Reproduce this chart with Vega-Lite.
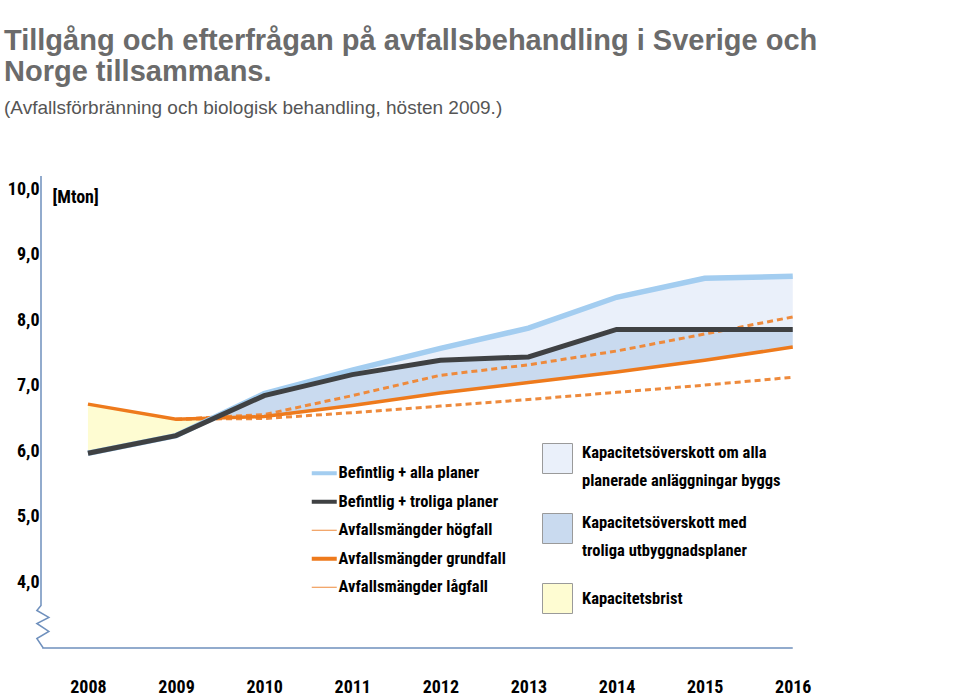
{
  "$schema": "https://vega.github.io/schema/vega-lite/v6.json",
  "width": 787,
  "height": 472,
  "autosize": {"type": "none"},
  "padding": {"left": 41, "top": 176, "right": 132, "bottom": 50},
  "background": "white",
  "config": {
    "view": {"stroke": null},
    "font": "Roboto Condensed, Liberation Sans, sans-serif"
  },
  "title": {
    "text": ["Tillgång och efterfrågan på avfallsbehandling i Sverige och", "Norge tillsammans."],
    "subtitle": "(Avfallsförbränning och biologisk behandling, hösten 2009.)",
    "anchor": "start",
    "frame": "group",
    "orient": "top",
    "dx": -37,
    "offset": 55,
    "font": "Liberation Sans, Arial, sans-serif",
    "fontSize": 29,
    "fontWeight": "bold",
    "color": "#6b6b6b",
    "lineHeight": 31,
    "subtitleFont": "Liberation Sans, Arial, sans-serif",
    "subtitleFontSize": 19,
    "subtitleColor": "#555555",
    "subtitlePadding": 12
  },
  "datasets": {
    "wide": [
      {"year": 2008, "alla": 5.97, "troliga": 5.97, "grund": 6.72},
      {"year": 2009, "alla": 6.24, "troliga": 6.24, "grund": 6.49},
      {"year": 2009.44, "alla": 6.51, "troliga": 6.51, "grund": 6.51},
      {"year": 2010, "alla": 6.88, "troliga": 6.85, "grund": 6.53},
      {"year": 2011, "alla": 7.24, "troliga": 7.17, "grund": 6.70},
      {"year": 2012, "alla": 7.57, "troliga": 7.39, "grund": 6.89},
      {"year": 2013, "alla": 7.88, "troliga": 7.44, "grund": 7.05},
      {"year": 2014, "alla": 8.35, "troliga": 7.86, "grund": 7.21},
      {"year": 2015, "alla": 8.64, "troliga": 7.86, "grund": 7.39},
      {"year": 2016, "alla": 8.67, "troliga": 7.86, "grund": 7.59}
    ],
    "lines": [
      {"series": "Avfallsmängder lågfall", "year": 2009, "value": 6.49},
      {"series": "Avfallsmängder lågfall", "year": 2010, "value": 6.50},
      {"series": "Avfallsmängder lågfall", "year": 2011, "value": 6.59},
      {"series": "Avfallsmängder lågfall", "year": 2012, "value": 6.69},
      {"series": "Avfallsmängder lågfall", "year": 2013, "value": 6.79},
      {"series": "Avfallsmängder lågfall", "year": 2014, "value": 6.90},
      {"series": "Avfallsmängder lågfall", "year": 2015, "value": 7.01},
      {"series": "Avfallsmängder lågfall", "year": 2016, "value": 7.13},
      {"series": "Avfallsmängder högfall", "year": 2009, "value": 6.49},
      {"series": "Avfallsmängder högfall", "year": 2010, "value": 6.56},
      {"series": "Avfallsmängder högfall", "year": 2011, "value": 6.85},
      {"series": "Avfallsmängder högfall", "year": 2012, "value": 7.16},
      {"series": "Avfallsmängder högfall", "year": 2013, "value": 7.32},
      {"series": "Avfallsmängder högfall", "year": 2014, "value": 7.53},
      {"series": "Avfallsmängder högfall", "year": 2015, "value": 7.79},
      {"series": "Avfallsmängder högfall", "year": 2016, "value": 8.05},
      {"series": "Avfallsmängder grundfall", "year": 2008, "value": 6.72},
      {"series": "Avfallsmängder grundfall", "year": 2009, "value": 6.49},
      {"series": "Avfallsmängder grundfall", "year": 2010, "value": 6.53},
      {"series": "Avfallsmängder grundfall", "year": 2011, "value": 6.70},
      {"series": "Avfallsmängder grundfall", "year": 2012, "value": 6.89},
      {"series": "Avfallsmängder grundfall", "year": 2013, "value": 7.05},
      {"series": "Avfallsmängder grundfall", "year": 2014, "value": 7.21},
      {"series": "Avfallsmängder grundfall", "year": 2015, "value": 7.39},
      {"series": "Avfallsmängder grundfall", "year": 2016, "value": 7.59},
      {"series": "Befintlig + alla planer", "year": 2008, "value": 5.97},
      {"series": "Befintlig + alla planer", "year": 2009, "value": 6.24},
      {"series": "Befintlig + alla planer", "year": 2010, "value": 6.88},
      {"series": "Befintlig + alla planer", "year": 2011, "value": 7.24},
      {"series": "Befintlig + alla planer", "year": 2012, "value": 7.57},
      {"series": "Befintlig + alla planer", "year": 2013, "value": 7.88},
      {"series": "Befintlig + alla planer", "year": 2014, "value": 8.35},
      {"series": "Befintlig + alla planer", "year": 2015, "value": 8.64},
      {"series": "Befintlig + alla planer", "year": 2016, "value": 8.67},
      {"series": "Befintlig + troliga planer", "year": 2008, "value": 5.97},
      {"series": "Befintlig + troliga planer", "year": 2009, "value": 6.24},
      {"series": "Befintlig + troliga planer", "year": 2010, "value": 6.85},
      {"series": "Befintlig + troliga planer", "year": 2011, "value": 7.17},
      {"series": "Befintlig + troliga planer", "year": 2012, "value": 7.39},
      {"series": "Befintlig + troliga planer", "year": 2013, "value": 7.44},
      {"series": "Befintlig + troliga planer", "year": 2014, "value": 7.86},
      {"series": "Befintlig + troliga planer", "year": 2015, "value": 7.86},
      {"series": "Befintlig + troliga planer", "year": 2016, "value": 7.86}
    ],
    "frame": [
      {"o": 0, "x": 2007.467, "y": 10.2},
      {"o": 1, "x": 2007.467, "y": 3.649},
      {"o": 2, "x": 2007.42, "y": 3.573},
      {"o": 3, "x": 2007.556, "y": 3.466},
      {"o": 4, "x": 2007.42, "y": 3.374},
      {"o": 5, "x": 2007.556, "y": 3.252},
      {"o": 6, "x": 2007.42, "y": 3.145},
      {"o": 7, "x": 2007.489, "y": 3.008},
      {"o": 8, "x": 2007.489, "y": 3.0},
      {"o": 9, "x": 2016.0, "y": 3.0}
    ]
  },
  "layer": [
    {
      "data": {"name": "wide"},
      "mark": {"type": "area", "opacity": 1},
      "encoding": {
        "x": {"field": "year", "type": "quantitative", "scale": {"domain": [2007.467, 2016.4], "nice": false, "zero": false},
          "axis": {"values": [2008, 2009, 2010, 2011, 2012, 2013, 2014, 2015, 2016], "format": "d", "domain": false, "ticks": false, "grid": false, "labelPadding": 30, "labelFontSize": 18, "labelFontWeight": "bold", "labelColor": "#000000", "labelFont": "Roboto Condensed, Liberation Sans, sans-serif", "title": null, "labelFlush": false}},
        "y": {"field": "alla", "type": "quantitative", "scale": {"domain": [3, 10.2], "nice": false, "zero": false},
          "axis": {"values": [4, 5, 6, 7, 8, 9, 10], "labelExpr": "replace(format(datum.value, '.1f'), '.', ',')", "domain": false, "ticks": false, "grid": false, "labelPadding": 2, "labelFontSize": 18, "labelFontWeight": "bold", "labelColor": "#000000", "labelFont": "Roboto Condensed, Liberation Sans, sans-serif",
            "title": "[Mton]", "titleAngle": 0, "titleX": 11, "titleY": 21, "titleAlign": "left", "titleBaseline": "middle", "titleFontSize": 18, "titleFontWeight": "bold", "titleColor": "#000000", "titleFont": "Roboto Condensed, Liberation Sans, sans-serif"}},
        "y2": {"field": "troliga"},
        "fill": {"datum": "Kapacitetsöverskott om alla|planerade anläggningar byggs", "type": "nominal",
          "scale": {"domain": ["Kapacitetsöverskott om alla|planerade anläggningar byggs", "Kapacitetsöverskott med|troliga utbyggnadsplaner", "Kapacitetsbrist"], "range": ["#eaf0fa", "#c9daef", "#fefcd2"]},
          "legend": {"orient": "none", "legendX": 501, "legendY": 267, "title": null, "symbolType": "square", "symbolSize": 900, "symbolStrokeColor": "#9a9a9a", "symbolStrokeWidth": 1, "symbolOpacity": 1, "labelExpr": "split(datum.label, '|')", "labelFontSize": 16.5, "labelFontWeight": "bold", "labelColor": "#000000", "labelFont": "Roboto Condensed, Liberation Sans, sans-serif", "labelOffset": 9, "rowPadding": 22, "labelLimit": 400,
            "encode": {"labels": {"update": {"lineHeight": {"value": 28}, "dy": {"signal": "indexof(datum.label, '|') >= 0 ? -6 : 0"}}}}}}
      }
    },
    {
      "data": {"name": "wide"},
      "transform": [{"filter": "datum.year >= 2009.44"}],
      "mark": {"type": "area", "opacity": 1},
      "encoding": {
        "x": {"field": "year", "type": "quantitative"},
        "y": {"field": "troliga", "type": "quantitative"},
        "y2": {"field": "grund"},
        "fill": {"datum": "Kapacitetsöverskott med|troliga utbyggnadsplaner", "type": "nominal"}
      }
    },
    {
      "data": {"name": "wide"},
      "transform": [{"filter": "datum.year <= 2009.44"}],
      "mark": {"type": "area", "opacity": 1},
      "encoding": {
        "x": {"field": "year", "type": "quantitative"},
        "y": {"field": "grund", "type": "quantitative"},
        "y2": {"field": "troliga"},
        "fill": {"datum": "Kapacitetsbrist", "type": "nominal"}
      }
    },
    {
      "data": {"name": "frame"},
      "mark": {"type": "line", "stroke": "#6f90bd", "strokeWidth": 1.5, "strokeJoin": "miter"},
      "encoding": {
        "x": {"field": "x", "type": "quantitative"},
        "y": {"field": "y", "type": "quantitative"},
        "order": {"field": "o", "type": "quantitative"}
      }
    },
    {
      "data": {"name": "lines"},
      "transform": [{"filter": "datum.series == 'Avfallsmängder högfall' || datum.series == 'Avfallsmängder lågfall'"}],
      "mark": {"type": "line", "strokeJoin": "miter", "strokeCap": "butt", "strokeWidth": 3, "strokeDash": [6, 4]},
      "encoding": {
        "x": {"field": "year", "type": "quantitative"},
        "y": {"field": "value", "type": "quantitative"},
        "stroke": {"field": "series", "type": "nominal",
          "scale": {"domain": ["Befintlig + alla planer", "Befintlig + troliga planer", "Avfallsmängder högfall", "Avfallsmängder grundfall", "Avfallsmängder lågfall"], "range": ["#a3cdf0", "#3f4143", "#ee8a3c", "#ee7a1c", "#ee8a3c"]},
          "legend": {"orient": "none", "legendX": 275, "legendY": 289, "title": null, "symbolType": "stroke", "symbolSize": 625, "labelFontSize": 16.5, "labelFontWeight": "bold", "labelColor": "#000000", "labelFont": "Roboto Condensed, Liberation Sans, sans-serif", "labelOffset": 6, "rowPadding": 11.5, "labelLimit": 400,
            "encode": {"symbols": {"update": {"stroke": {"signal": "scale('stroke', datum.value)"}, "strokeWidth": {"signal": "datum.value == 'Avfallsmängder högfall' || datum.value == 'Avfallsmängder lågfall' ? 1.2 : 4"}, "strokeDash": {"value": [1, 0]}, "opacity": {"value": 1}}}}}}
      }
    },
    {
      "data": {"name": "lines"},
      "transform": [{"filter": "datum.series == 'Avfallsmängder grundfall'"}],
      "mark": {"type": "line", "strokeJoin": "miter", "strokeCap": "butt", "strokeWidth": 3.5},
      "encoding": {
        "x": {"field": "year", "type": "quantitative"},
        "y": {"field": "value", "type": "quantitative"},
        "stroke": {"field": "series", "type": "nominal"}
      }
    },
    {
      "data": {"name": "lines"},
      "transform": [{"filter": "datum.series == 'Befintlig + alla planer'"}],
      "mark": {"type": "line", "strokeJoin": "miter", "strokeCap": "butt", "strokeWidth": 5.5},
      "encoding": {
        "x": {"field": "year", "type": "quantitative"},
        "y": {"field": "value", "type": "quantitative"},
        "stroke": {"field": "series", "type": "nominal"}
      }
    },
    {
      "data": {"name": "lines"},
      "transform": [{"filter": "datum.series == 'Befintlig + troliga planer'"}],
      "mark": {"type": "line", "strokeJoin": "miter", "strokeCap": "butt", "strokeWidth": 5},
      "encoding": {
        "x": {"field": "year", "type": "quantitative"},
        "y": {"field": "value", "type": "quantitative"},
        "stroke": {"field": "series", "type": "nominal"}
      }
    }
  ]
}
